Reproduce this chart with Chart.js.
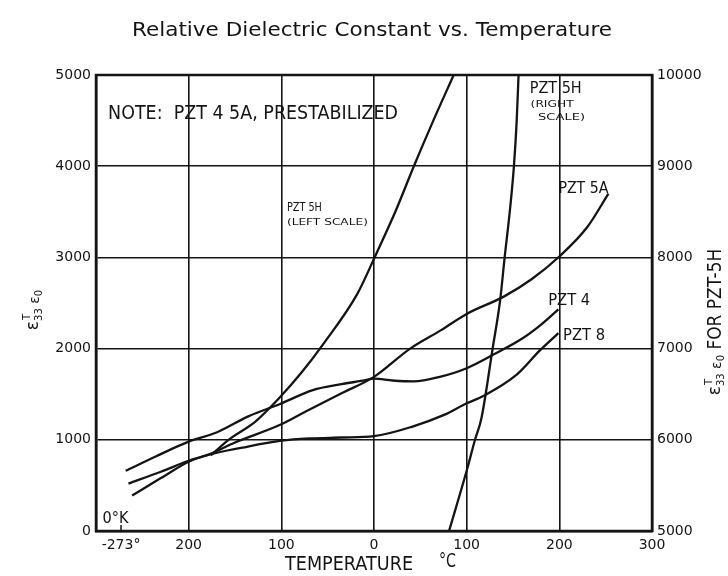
<!DOCTYPE html>
<html>
<head>
<meta charset="utf-8">
<title>Relative Dielectric Constant vs. Temperature</title>
<script src="https://cdn.jsdelivr.net/npm/chart.js@4.4.1/dist/chart.umd.min.js"></script>
<style>
  html, body { margin: 0; padding: 0; background: #fff; }
  #wrap { width: 728px; height: 576px; }
</style>
</head>
<body>
<div id="wrap"><canvas id="dielectricChart" width="728" height="576"></canvas></div>
<script>
// values, temperature in °C
const tempPzt5hLeft = [-176, -157, -128, -103, -78, -54, -18, 2, 23, 43, 64, 86];
const pzt5hLeft = [830, 1000, 1200, 1450, 1740, 2060, 2600, 3030, 3500, 4000, 4500, 5000];

const tempPzt5hRight = [81, 100, 109, 116, 128, 136, 141, 147, 151, 154, 156];
const pzt5hRight = [5000, 5660, 6000, 6240, 7000, 7520, 8000, 8550, 9000, 9500, 10000];

const tempPzt5a = [-265, -230, -200, -178, -150, -100, -70, -35, 0, 39, 72, 100, 140, 170, 200, 230, 253];
const pzt5a = [520, 650, 770, 840, 970, 1170, 1330, 1510, 1690, 2000, 2200, 2380, 2570, 2760, 3010, 3330, 3700];

const tempPzt4 = [-268, -235, -200, -170, -135, -102, -66, -35, -14, 0, 20, 43, 71, 100, 130, 160, 180, 199];
const pzt4 = [660, 820, 980, 1080, 1260, 1390, 1545, 1610, 1645, 1670, 1650, 1640, 1690, 1785, 1940, 2110, 2260, 2430];

const tempPzt8 = [-261, -230, -200, -178, -142, -100, -70, -35, 0, 40, 75, 100, 118, 154, 179, 199];
const pzt8 = [390, 580, 760, 836, 914, 990, 1015, 1025, 1040, 1140, 1270, 1400, 1480, 1714, 1980, 2170];

// axis ticks
const tempTicks = [-273, -200, -100, 0, 100, 200, 300];
const leftTicks = [0, 1000, 2000, 3000, 4000, 5000];
const rightTicks = [5000, 6000, 7000, 8000, 9000, 10000];

// text written on the plot (x in °C, y on left scale)
const plotLabels = [
  { text: "NOTE:  PZT 4 5A, PRESTABILIZED", x: -287, y: 4577, size: 20, w: 290 },
  { text: "PZT 5H", x: -94, y: 3542, size: 12, w: 35 },
  { text: "(LEFT SCALE)", x: -94, y: 3377, size: 9, w: 81 },
  { text: "PZT 5H", x: 168, y: 4846, size: 16, w: 52 },
  { text: "(RIGHT", x: 169, y: 4671, size: 9, w: 43 },
  { text: "SCALE)", x: 177, y: 4529, size: 9, w: 47 },
  { text: "PZT 5A", x: 199, y: 3750, size: 16, w: 50 },
  { text: "PZT 4", x: 188, y: 2522, size: 16, w: 42 },
  { text: "PZT 8", x: 204, y: 2138, size: 16, w: 42 },
  { text: "0°K", x: -293, y: 132, size: 15, w: 26 },
];

const ink = "#141414";

function toPoints(xs, ys) {
  return xs.map((x, i) => ({ x: x, y: ys[i] }));
}

function curve(label, xs, ys, axis) {
  return {
    label: label,
    data: toPoints(xs, ys),
    yAxisID: axis,
    borderColor: ink,
    borderWidth: 2.3,
    pointRadius: 0,
    fill: false,
    cubicInterpolationMode: "monotone",
  };
}

// draw text squeezed to a given width
function drawFitted(ctx, text, x, y, size, width, align) {
  ctx.save();
  ctx.font = size + "px 'DejaVu Sans', sans-serif";
  const w = ctx.measureText(text).width;
  const sx = width ? width / w : 1;
  ctx.translate(x, y);
  ctx.scale(sx, 1);
  ctx.textAlign = align || "left";
  ctx.textBaseline = "middle";
  ctx.fillStyle = ink;
  ctx.fillText(text, 0, 0);
  ctx.restore();
}

// epsilon T 33 / epsilon 0, rotated to read bottom-up
function drawEpsTitle(ctx, cx, cy, suffix) {
  const parts = [
    { t: "ε", size: 17, dy: 0 },
    { t: "33", size: 10, dy: 5, sup: "T" },
    { t: " ε", size: 14, dy: 1 },
    { t: "0", size: 10, dy: 5 },
  ];
  if (suffix) parts.push({ t: suffix, size: 20, dy: 0, sx: 0.85 });
  ctx.save();
  ctx.translate(cx, cy);
  ctx.rotate(-Math.PI / 2);
  ctx.fillStyle = ink;
  ctx.textBaseline = "middle";
  let total = 0;
  parts.forEach((p) => {
    ctx.font = p.size + "px 'DejaVu Sans', sans-serif";
    p.width = ctx.measureText(p.t).width * (p.sx || 1);
    total += p.width;
  });
  let x = -total / 2;
  parts.forEach((p) => {
    ctx.save();
    ctx.font = p.size + "px 'DejaVu Sans', sans-serif";
    ctx.translate(x, p.dy);
    ctx.scale(p.sx || 1, 1);
    ctx.fillText(p.t, 0, 0);
    if (p.sup) {
      ctx.font = "10px 'DejaVu Sans', sans-serif";
      ctx.fillText(p.sup, 1, -12);
    }
    ctx.restore();
    x += p.width;
  });
  ctx.restore();
}

const decorations = {
  id: "decorations",
  afterDraw(chart) {
    const ctx = chart.ctx;
    const area = chart.chartArea;
    const xs = chart.scales.x;
    const ys = chart.scales.y;

    // frame round the plot
    ctx.save();
    ctx.strokeStyle = ink;
    ctx.lineWidth = 2.5;
    ctx.strokeRect(area.left, area.top, area.right - area.left, area.bottom - area.top);

    // small mark at absolute zero
    const x0k = xs.getPixelForValue(-273);
    ctx.lineWidth = 1.5;
    ctx.beginPath();
    ctx.moveTo(x0k, area.bottom);
    ctx.lineTo(x0k, area.bottom - 6);
    ctx.stroke();
    ctx.restore();

    // title
    drawFitted(ctx, "Relative Dielectric Constant vs. Temperature", 372, 31, 20, 480, "center");

    // axis titles
    drawFitted(ctx, "TEMPERATURE", 285, 565, 19, 128, "left");
    drawFitted(ctx, "°C", 439, 562, 19, 17, "left");
    drawEpsTitle(ctx, 34, 310, "");
    drawEpsTitle(ctx, 716, 322, " FOR PZT-5H");

    // curve labels and notes
    plotLabels.forEach((l) => {
      drawFitted(ctx, l.text, xs.getPixelForValue(l.x), ys.getPixelForValue(l.y), l.size, l.w, "left");
    });
  },
};

Chart.defaults.font.family = "'DejaVu Sans', sans-serif";
Chart.defaults.color = ink;

const ctx = document.getElementById("dielectricChart").getContext("2d");
const dielectricChart = new Chart(ctx, {
  type: "line",
  data: {
    datasets: [
      curve("PZT 5H (left scale)", tempPzt5hLeft, pzt5hLeft, "y"),
      curve("PZT 5H (right scale)", tempPzt5hRight, pzt5hRight, "y2"),
      curve("PZT 5A", tempPzt5a, pzt5a, "y"),
      curve("PZT 4", tempPzt4, pzt4, "y"),
      curve("PZT 8", tempPzt8, pzt8, "y"),
    ],
  },
  options: {
    responsive: false,
    animation: false,
    layout: {
      padding: { top: 75, left: 0, right: 0, bottom: 0 },
    },
    scales: {
      x: {
        type: "linear",
        min: -300,
        max: 300,
        afterBuildTicks: (scale) => {
          scale.ticks = tempTicks.map((v) => ({ value: v }));
        },
        afterFit: (scale) => {
          scale.height = 45;
        },
        grid: {
          color: (c) => (c.tick && c.tick.value === -273 ? "rgba(0,0,0,0)" : ink),
          lineWidth: 1.6,
          drawTicks: false,
        },
        border: { display: true, color: ink, width: 2.5 },
        ticks: {
          padding: 6,
          maxRotation: 0,
          autoSkip: false,
          font: { size: 14 },
          callback: (v) => (v === -273 ? "-273°" : String(Math.abs(v))),
        },
      },
      y: {
        position: "left",
        min: 0,
        max: 5000,
        afterBuildTicks: (scale) => {
          scale.ticks = leftTicks.map((v) => ({ value: v }));
        },
        afterFit: (scale) => {
          scale.width = 96;
        },
        grid: { color: ink, lineWidth: 1.6, drawTicks: false },
        border: { display: true, color: ink, width: 2.5 },
        ticks: { padding: 5, font: { size: 14 }, callback: (v) => String(v) },
      },
      y2: {
        position: "right",
        min: 5000,
        max: 10000,
        afterBuildTicks: (scale) => {
          scale.ticks = rightTicks.map((v) => ({ value: v }));
        },
        afterFit: (scale) => {
          scale.width = 76;
        },
        grid: { drawOnChartArea: false, drawTicks: false },
        border: { display: true, color: ink, width: 2.5 },
        ticks: { padding: 5, font: { size: 14 }, callback: (v) => String(v) },
      },
    },
    plugins: {
      legend: { display: false },
      title: { display: false },
      tooltip: { enabled: false },
    },
  },
  plugins: [decorations],
});
</script>
</body>
</html>
